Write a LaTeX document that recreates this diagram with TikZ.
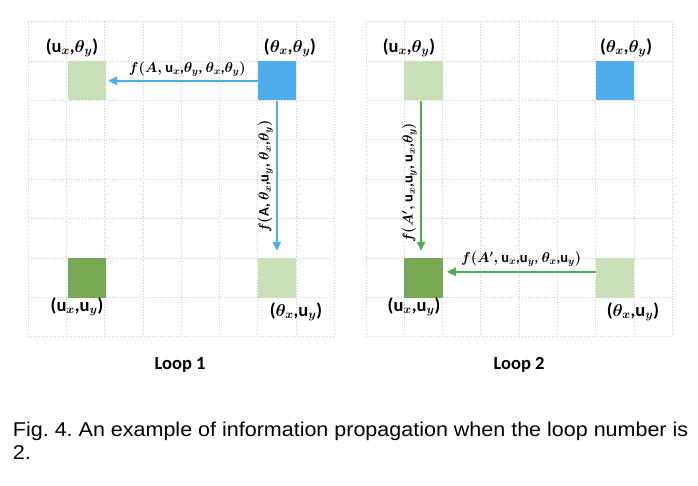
\documentclass[tikz,border=0pt]{standalone}
\usepackage{amsmath,bm}
\usepackage{fontspec}
\setmainfont{Carlito}
\newfontfamily\capfont{Liberation Sans}
\usetikzlibrary{arrows.meta}
\definecolor{lgreen}{HTML}{C9DFB8}
\definecolor{dgreen}{HTML}{78A851}
\definecolor{sqblue}{HTML}{4EADEA}
\definecolor{arrblue}{HTML}{4EADEA}
\definecolor{arrgreen}{HTML}{4DB04F}
\definecolor{gridgray}{HTML}{D0D0D0}
\newcommand\uu{\mbox{\bfseries u}}
\frenchspacing
\begin{document}
\begin{tikzpicture}[x=1bp,y=-1bp,
  gridline/.style={gridgray,line width=0.7bp,dotted},
  cell/.style={minimum width=38.3bp,minimum height=39.4bp,inner sep=0pt,draw=none},
  corner/.style={font=\fontsize{18.5bp}{22bp}\selectfont\bfseries\boldmath,inner sep=0pt},
  flabel/.style={font=\fontsize{14.5bp}{16bp}\selectfont\bfseries\boldmath,inner sep=0pt},
  looplabel/.style={font=\fontsize{18.5bp}{22bp}\selectfont\bfseries,inner sep=0pt},
  caption/.style={font=\fontsize{20bp}{24bp}\selectfont\capfont,inner sep=0pt,anchor=base west},
  arr/.style={line width=2.4bp,-{Triangle[length=9bp,width=8bp]}}
]
\useasboundingbox (0,0) rectangle (698,486);
% grids
\foreach \i in {0,...,8}{
  \draw[gridline] (28.3+38.25*\i,21.7) -- (28.3+38.25*\i,336.7);
  \draw[gridline] (28.3,21.7+39.375*\i) -- (334.3,21.7+39.375*\i);
  \draw[gridline] (366+38.28*\i,21.7) -- (366+38.28*\i,336.7);
  \draw[gridline] (366,21.7+39.375*\i) -- (672.3,21.7+39.375*\i);
}
% panel 1 squares
\node[cell,fill=lgreen] (a1) at (86.7,80.8) {};
\node[cell,fill=sqblue] (b1) at (276.9,80.8) {};
\node[cell,fill=dgreen] (c1) at (86.7,277.8) {};
\node[cell,fill=lgreen] (d1) at (276.9,277.8) {};
% panel 2 squares
\node[cell,fill=lgreen] (a2) at (423.4,80.8) {};
\node[cell,fill=sqblue] (b2) at (614.9,80.8) {};
\node[cell,fill=dgreen] (c2) at (423.4,277.8) {};
\node[cell,fill=lgreen] (d2) at (614.9,277.8) {};
% corner labels panel 1
\node[corner] (la1) at (72,48) {(\uu$_x$,$\theta_y$)};
\node[corner] (lb1) at (290,48) {($\theta_x$,$\theta_y$)};
\node[corner] (lc1) at (77,307) {(\uu$_x$,\uu$_y$)};
\node[corner] (ld1) at (296,312) {($\theta_x$,\uu$_y$)};
% corner labels panel 2
\node[corner] (la2) at (409,48) {(\uu$_x$,$\theta_y$)};
\node[corner] (lb2) at (626,48) {($\theta_x$,$\theta_y$)};
\node[corner] (lc2) at (414,307) {(\uu$_x$,\uu$_y$)};
\node[corner] (ld2) at (633,312) {($\theta_x$,\uu$_y$)};
% arrows panel 1
\draw[arr,arrblue] (b1.west) -- ([xshift=2bp]a1.east) node[flabel,black,pos=0.47,above=3bp] (f1) {$f(A,$ \uu$_x$,$\theta_y$, $\theta_x$,$\theta_y)$};
\draw[arr,arrblue] (b1.south) -- ([yshift=7bp]d1.north) node[flabel,black,midway,rotate=90,above=3bp,xshift=-1bp] (f2) {$f($A, $\theta_x$,\uu$_y$, $\theta_x$,$\theta_y)$};
% arrows panel 2
\draw[arr,arrgreen] ([xshift=-2.4bp]a2.south) -- ([xshift=-2.4bp,yshift=7bp]c2.north) node[flabel,black,midway,rotate=90,above=3bp,xshift=-7bp] (f3) {$f(A',$ \uu$_x$,\uu$_y$, \uu$_x$,$\theta_y)$};
\draw[arr,arrgreen] ([yshift=6bp]d2.west) -- ([xshift=4bp,yshift=6bp]c2.east) node[flabel,black,midway,above=4bp] (f4) {$f(A',$ \uu$_x$,\uu$_y$, $\theta_x$,\uu$_y)$};
% loop labels
\node[looplabel] (loop1) at (180,365) {Loop 1};
\node[looplabel] (loop2) at (519,365) {Loop 2};
% caption
\node[caption] (cap1) at (12.8,436.7) {\scalebox{1.075}[1]{Fig. 4. An example of information propagation when the loop number is}};
\node[caption] (cap2) at (12.8,459.5) {\scalebox{1.075}[1]{2.}};
\end{tikzpicture}
\end{document}
